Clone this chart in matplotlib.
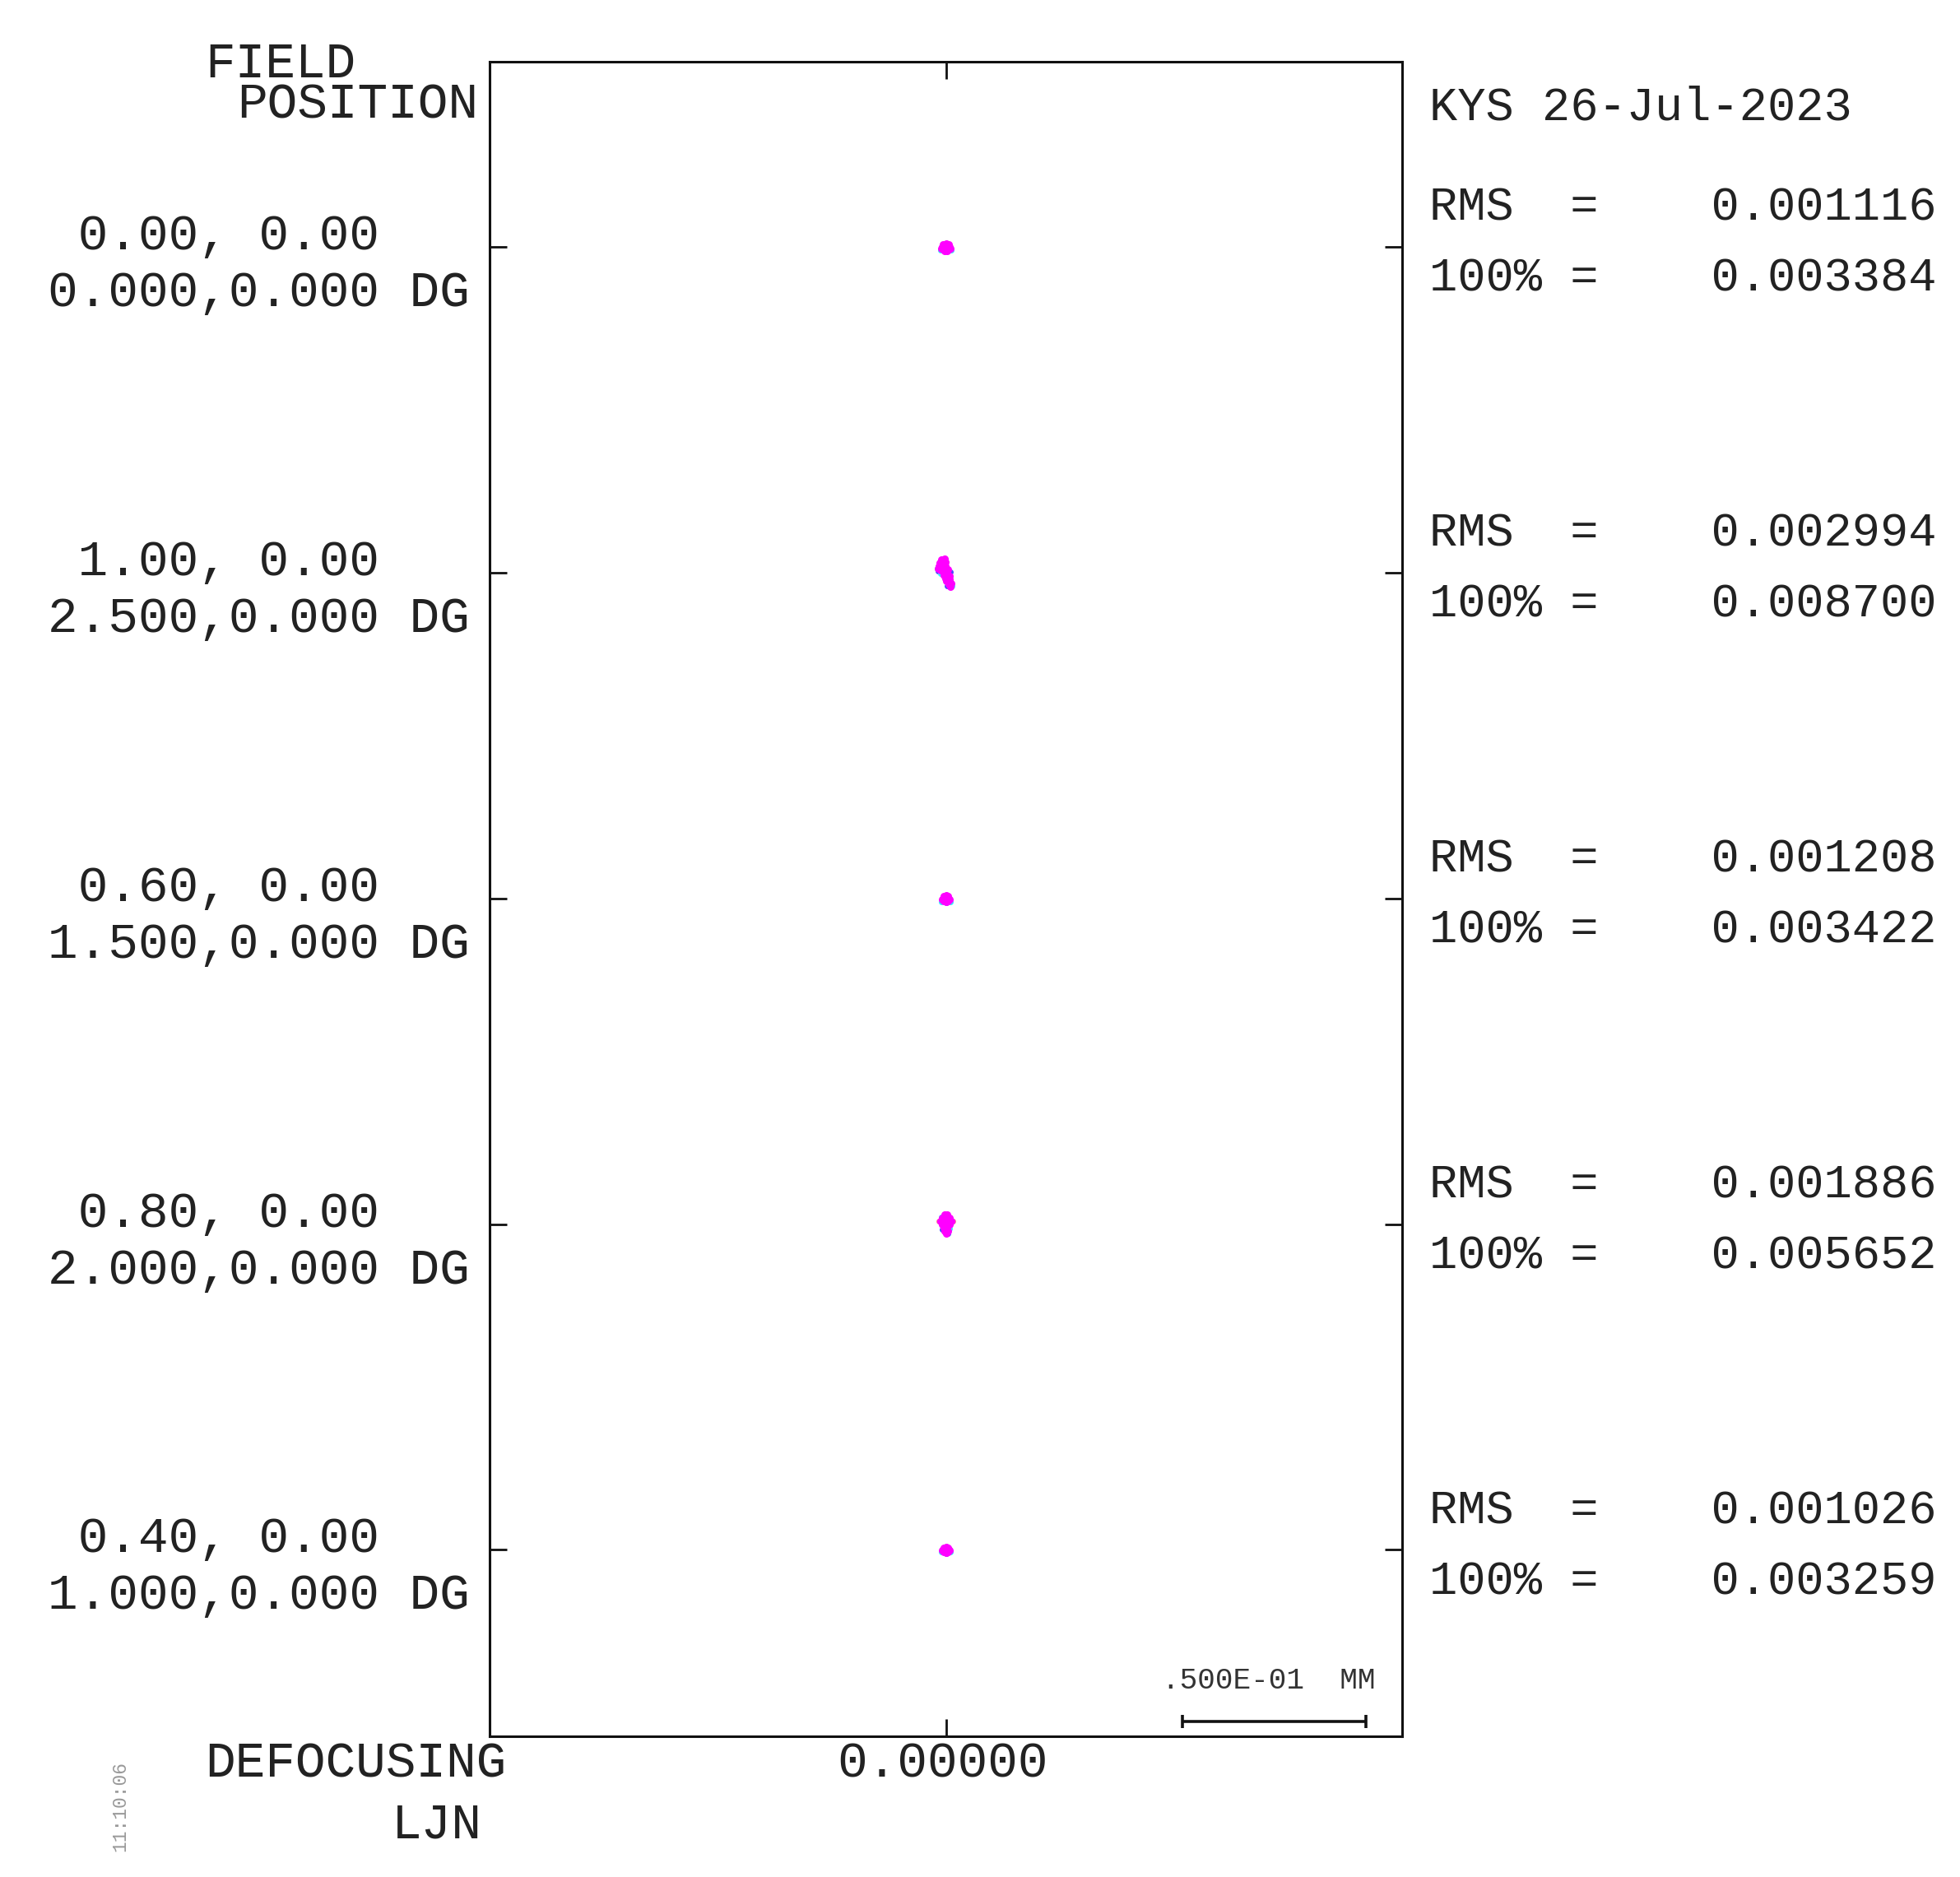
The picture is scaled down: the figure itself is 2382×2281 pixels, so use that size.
import matplotlib
matplotlib.use("Agg")
import matplotlib.pyplot as plt
import numpy as np

plt.rcParams['font.family'] = ['Liberation Mono', 'DejaVu Sans Mono']

# ---------------- data ----------------
field_rel = ["0.00, 0.00", "1.00, 0.00", "0.60, 0.00", "0.80, 0.00", "0.40, 0.00"]
field_deg = ["0.000,0.000 DG", "2.500,0.000 DG", "1.500,0.000 DG", "2.000,0.000 DG", "1.000,0.000 DG"]
rms_vals = [0.001116, 0.002994, 0.001208, 0.001886, 0.001026]
pct100_vals = [0.003384, 0.008700, 0.003422, 0.005652, 0.003259]
defocus = 0.0
scale_bar_mm = 0.05
header_right = "KYS 26-Jul-2023"
timestamp = "11:10:06"
designer = "LJN"

# ray intercept offsets (micrometres) per field, per wavelength colour
spot_f0_m_x = [0, 0.9, -0.9, 0, 0, 0.7, -0.7, 0.7, -0.7, 1.2, -1.2, 0.4, -0.4]
spot_f0_m_y = [0, 0, 0, 0.9, -0.9, 0.6, 0.6, -0.7, -0.7, -0.5, -0.5, -1.2, -1.2]
spot_f0_c_x = [-1.4, 1.4]
spot_f0_c_y = [-1.0, -1.0]
spot_f0_b_x = [-1.3, 1.3]
spot_f0_b_y = [-0.3, -0.4]

spot_f1_m_x = [-1.2, -0.4, -1.0, -1.8, -1.0, -0.1, 0.6, -1.4, -0.5, 0.4, -0.6, 0.3, 1.0, 0.1, 0.9, 0.7, 1.4, 1.2,
               -0.2, -1.6, -2.1, -0.8, 0.0, 0.5, -0.2, 1.1]
spot_f1_m_y = [3.6, 3.7, 2.8, 1.8, 1.9, 1.8, 1.0, 0.7, 0.6, 0.0, -0.6, -1.2, -1.0, -2.2, -2.3, -3.1, -3.0, -3.7,
               2.9, 2.8, 1.2, 1.2, 0.8, -0.6, -1.6, -1.8]
spot_f1_c_x = [-2.4, -1.5, 1.7]
spot_f1_c_y = [1.2, -0.2, -3.6]
spot_f1_b_x = [-2.2, 0.3, 1.3]
spot_f1_b_y = [0.4, -3.5, 0.3]

spot_f2_m_x = [0, 0.8, -0.8, 0, 0, 0.6, -0.6, 0.6, -0.6, 1.0, -1.0]
spot_f2_m_y = [0, 0, 0, 0.8, -0.8, 0.6, 0.6, -0.6, -0.6, -0.3, -0.3]
spot_f2_c_x = [-1.2, 1.2]
spot_f2_c_y = [-0.8, -0.8]
spot_f2_b_x = [0.0]
spot_f2_b_y = [-1.2]

spot_f3_m_x = [-0.4, 0.4, -1.0, 0, 1.0, -1.4, -0.5, 0.5, 1.4, -1.0, 0, 0.9, -0.6, 0.4, -0.3, 0.5, 0.1]
spot_f3_m_y = [2.6, 2.6, 1.8, 1.9, 1.8, 1.0, 1.0, 1.0, 1.0, 0.1, 0, 0.1, -0.9, -0.9, -1.8, -1.8, -2.4]
spot_f3_c_x = [-1.3, 1.1]
spot_f3_c_y = [2.1, -1.2]
spot_f3_b_x = [-1.1, 0.5]
spot_f3_b_y = [-1.4, -2.5]
spot_f3_r_x = [-2.0, 2.0]
spot_f3_r_y = [1.0, 1.0]

spot_f4_m_x = [0, 0.8, -0.8, 0, 0, 0.5, -0.5, 0.5, -0.5, 1.0, -1.0]
spot_f4_m_y = [0, 0, 0, 0.7, -0.8, 0.5, 0.5, -0.6, -0.6, -0.2, -0.2]
spot_f4_c_x = [-1.2, 1.2]
spot_f4_c_y = [-0.6, -0.6]
spot_f4_b_x = [0.0]
spot_f4_b_y = [-1.1]

spots = [
    {"m": (spot_f0_m_x, spot_f0_m_y), "c": (spot_f0_c_x, spot_f0_c_y), "b": (spot_f0_b_x, spot_f0_b_y)},
    {"m": (spot_f1_m_x, spot_f1_m_y), "c": (spot_f1_c_x, spot_f1_c_y), "b": (spot_f1_b_x, spot_f1_b_y)},
    {"m": (spot_f2_m_x, spot_f2_m_y), "c": (spot_f2_c_x, spot_f2_c_y), "b": (spot_f2_b_x, spot_f2_b_y)},
    {"m": (spot_f3_m_x, spot_f3_m_y), "c": (spot_f3_c_x, spot_f3_c_y), "b": (spot_f3_b_x, spot_f3_b_y),
     "r": (spot_f3_r_x, spot_f3_r_y)},
    {"m": (spot_f4_m_x, spot_f4_m_y), "c": (spot_f4_c_x, spot_f4_c_y), "b": (spot_f4_b_x, spot_f4_b_y)},
]
wave_colors = {"b": "#4a4aff", "c": "#3ae8ff", "r": "#ff7a9a", "m": "#ff00ff"}

# ---------------- layout ----------------
W, H = 2382, 2281
PX_PER_MM = 4460.0
ax_left, ax_right, ax_top, ax_bot = 595, 1704, 75, 2110
row_px = [300, 696, 1092, 1488, 1883]

fig = plt.figure(figsize=(W / 100, H / 100), dpi=100)
fig.patch.set_facecolor("white")
ax = fig.add_axes([ax_left / W, (H - ax_bot) / H, (ax_right - ax_left) / W, (ax_bot - ax_top) / H])

xc = (ax_left + ax_right) / 2.0
half_w = (ax_right - ax_left) / 2.0 / PX_PER_MM
y_top = (row_px[0] - ax_top) / PX_PER_MM
row_y = [-(r - row_px[0]) / PX_PER_MM for r in row_px]
y_bot = -(ax_bot - row_px[0]) / PX_PER_MM
ax.set_xlim(-half_w, half_w)
ax.set_ylim(y_bot, y_top)

for k, sp in enumerate(spots):
    for key in ["b", "c", "r", "m"]:
        if key in sp:
            xs = np.array(sp[key][0]) / 1000.0
            ys = row_y[k] + np.array(sp[key][1]) / 1000.0
            ax.plot(xs, ys, "o", ms=6.5 if key == "m" else 5.0, mec="none", color=wave_colors[key],
                    zorder=3 if key == "m" else 2)

# ticks
ax.set_xticks([defocus])
ax.set_yticks(row_y)
ax.tick_params(axis="both", which="both", direction="in", length=15, width=2.0, color="#111111",
               top=True, bottom=True, left=True, right=True,
               labelbottom=False, labelleft=False, labeltop=False, labelright=False)
for s in ax.spines.values():
    s.set_linewidth(2.2)
    s.set_color("#111111")

# scale bar
sb_x0 = (1437 - xc) / PX_PER_MM
sb_y = y_bot + (ax_bot - 2092) / PX_PER_MM
cap = 8 / PX_PER_MM
ax.plot([sb_x0, sb_x0 + scale_bar_mm], [sb_y, sb_y], color="#111111", lw=2.6, solid_capstyle="butt")
ax.plot([sb_x0, sb_x0], [sb_y - cap, sb_y + cap], color="#111111", lw=2.6, solid_capstyle="butt")
ax.plot([sb_x0 + scale_bar_mm] * 2, [sb_y - cap, sb_y + cap], color="#111111", lw=2.6, solid_capstyle="butt")
ax.text(sb_x0 + scale_bar_mm / 2 - 0.0015, y_bot + (ax_bot - 2043) / PX_PER_MM,
        f"{scale_bar_mm:.3E}".replace("5.000E-02", ".500E-01") + "  MM",
        ha="center", va="center", fontsize=26, color="#333333")

TXT = "#222222"
def ftext(x, y_from_top, s, **kw):
    kw.setdefault("color", TXT)
    fig.text(x / W, 1 - y_from_top / H, s, **kw)

# left header
ftext(249, 94, "FIELD", fontsize=44, ha="left", va="baseline")
ftext(288, 144, "POSITION", fontsize=44, ha="left", va="baseline")

# row labels
for k in range(len(row_px)):
    ftext(58, row_px[k] + 3, " " + field_rel[k], fontsize=44, ha="left", va="baseline")
    ftext(58, row_px[k] + 72, field_deg[k], fontsize=44, ha="left", va="baseline")
    ftext(1737, row_px[k] - 32, f"RMS  =    {rms_vals[k]:.6f}", fontsize=41, ha="left", va="baseline")
    ftext(1737, row_px[k] + 54, f"100% =    {pct100_vals[k]:.6f}", fontsize=41, ha="left", va="baseline")

ftext(1737, 146, header_right, fontsize=41, ha="left", va="baseline")

# bottom
ftext(249, 2160, "DEFOCUSING", fontsize=44, ha="left", va="baseline")
ftext(476, 2233, designer, fontsize=44, ha="left", va="baseline")
ftext(1145, 2160, f"{defocus:.5f}", fontsize=44, ha="center", va="baseline")
ftext(146, 2195, timestamp, fontsize=16.5, ha="center", va="center", rotation=90, color="#999999")

fig.savefig("out.png", dpi=100, facecolor="white")
